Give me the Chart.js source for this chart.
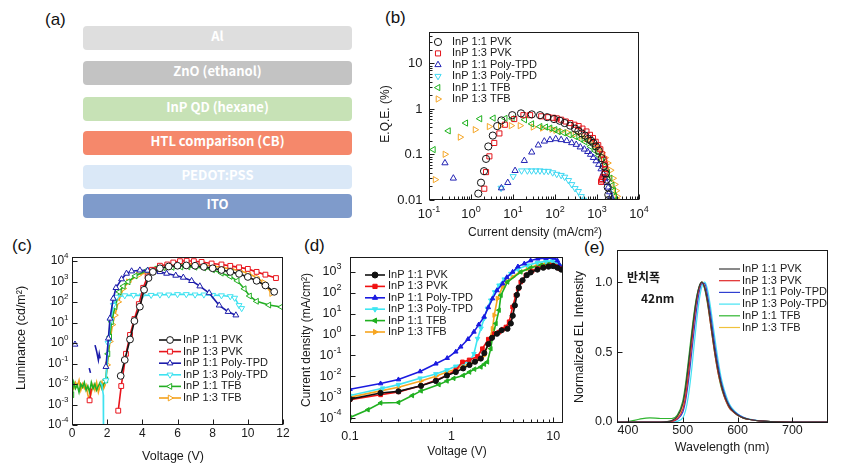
<!DOCTYPE html>
<html>
<head>
<meta charset="utf-8">
<script src="https://cdn.jsdelivr.net/npm/chart.js@4.4.0/dist/chart.umd.min.js"></script>
<style>
body { margin: 0; background: #fff; width: 846px; height: 465px; position: relative; overflow: hidden; font-family: "Liberation Sans", Arial, sans-serif; }
canvas { position: absolute; }
.tag { position: absolute; font-size: 17px; color: #111; }
.lay { position: absolute; left: 83px; width: 269px; height: 24px; border-radius: 4px; color: #fff; text-align: center; line-height: 24px;
       font: bold 13px "Noto Sans CJK KR", "Noto Sans", sans-serif; }
</style>
</head>
<body>
<div class="tag" style="left:45px;top:10px">(a)</div>
<div class="tag" style="left:385px;top:8px">(b)</div>
<div class="tag" style="left:12px;top:236px">(c)</div>
<div class="tag" style="left:304px;top:236px">(d)</div>
<div class="tag" style="left:584px;top:238px">(e)</div>

<!-- (a) device stack -->
<div class="lay" style="top:26px;background:#dedede">Al</div>
<div class="lay" style="top:61px;background:#c3c3c3">ZnO (ethanol)</div>
<div class="lay" style="top:97px;background:#c7e2b6">InP QD (hexane)</div>
<div class="lay" style="top:131px;background:#f5886b">HTL comparison (CB)</div>
<div class="lay" style="top:165px;background:#dae8f7">PEDOT:PSS</div>
<div class="lay" style="top:194px;background:#7f9bcb">ITO</div>

<canvas id="eqe"></canvas>
<canvas id="lum"></canvas>
<canvas id="jv"></canvas>
<canvas id="el"></canvas>

<script>
// ---- series names ----
const names = ['InP 1:1 PVK', 'InP 1:3 PVK', 'InP 1:1 Poly-TPD', 'InP 1:3 Poly-TPD', 'InP 1:1 TFB', 'InP 1:3 TFB'];

// ---- (b) EQE (%) vs current density (mA/cm2) ----
const bJ1 = [1.49,1.73,2.04,2.28,2.58,3.3,4.2,5.3,9.6,15.5,28,44,65,95,130,170,230,300,360,433,520,620,720,815,950,1100,1290,1450,1600,1700,1800,1860,1880];
const bE1 = [0.0138,0.024,0.043,0.080,0.15,0.26,0.42,0.56,0.73,0.80,0.76,0.73,0.66,0.60,0.55,0.49,0.43,0.37,0.33,0.29,0.26,0.22,0.20,0.18,0.15,0.12,0.083,0.055,0.038,0.028,0.019,0.013,0.010];
const bJ2 = [2.07,2.28,2.74,3.58,4.74,6.4,10.7,17.7,25.5,47,69,90,110,140,180,230,290,365,450,560,680,800,930,1070,1200,1330,1480,1560,1580,1520,1420,1330,1290,1250];
const bE2 = [0.0177,0.041,0.091,0.179,0.29,0.45,0.60,0.73,0.73,0.69,0.66,0.64,0.62,0.58,0.53,0.49,0.45,0.42,0.37,0.32,0.27,0.23,0.19,0.16,0.13,0.10,0.077,0.06,0.048,0.038,0.032,0.029,0.027,0.025];
const bJ3 = [0.24,0.38,5.3,7.5,11.2,18.6,27.9,40,55.7,76,104,140,190,250,320,400,500,600,700,820,950,1100,1250,1400,1550,1700,1850,2000,2150,2300];
const bE3 = [0.065,0.030,0.0183,0.024,0.044,0.073,0.112,0.16,0.195,0.21,0.22,0.21,0.20,0.18,0.165,0.145,0.13,0.115,0.10,0.085,0.072,0.06,0.048,0.038,0.03,0.024,0.019,0.015,0.012,0.0105];
const bJ4 = [5.2,10.1,16,22,27.7,35,43.8,55,69,88,110,140,170,210,250,300,360,420,475];
const bE4 = [0.0183,0.033,0.044,0.044,0.044,0.044,0.044,0.043,0.043,0.040,0.037,0.035,0.032,0.027,0.022,0.018,0.0155,0.012,0.010];
const bJ5 = [0.127,0.29,0.75,1.63,3.4,6.5,9.6,19,28,44,60,76,100,120,160,220,300,400,520,700,900,1100,1300,1550,1800,2050,2300,2500,2650,2790];
const bE5 = [0.128,0.33,0.49,0.61,0.63,0.62,0.61,0.58,0.47,0.41,0.40,0.38,0.35,0.32,0.30,0.27,0.25,0.22,0.19,0.15,0.12,0.095,0.075,0.055,0.04,0.03,0.021,0.016,0.012,0.010];
const bJ6 = [0.14,0.24,0.55,1.25,2.7,5,9,14.7,30,50,84,104,140,200,300,420,550,700,900,1100,1300,1550,1800,2100,2400,2650,2850,3000,3160];
const bE6 = [0.028,0.101,0.24,0.35,0.41,0.43,0.43,0.43,0.40,0.38,0.36,0.34,0.32,0.30,0.28,0.25,0.22,0.20,0.16,0.135,0.11,0.085,0.065,0.045,0.03,0.022,0.016,0.012,0.010];

// ---- (c) luminance (cd/m2) vs voltage (V), null = gap ----
const cV1 = [2.77,3.0,3.3,3.55,3.86,4.1,4.35,4.6,5.0,5.5,6.0,6.5,7.0,7.5,8.0,8.5,9.0,9.5,10.0,10.5,11.0,11.5];
const cL1 = [0.025,0.15,1.5,12,60,400,1500,3000,4500,5500,6000,6200,6000,5300,4500,3700,3000,2400,1700,1100,650,320];
const cV2 = [1.0,1.1,1.2,2.63,2.8,3.07,3.3,3.55,3.8,4.05,4.3,4.55,5.0,5.42,5.76,6.14,6.52,6.93,7.37,7.94,8.5,9.0,9.5,10.0,10.5,11.0,11.6];
const cL2 = [0.0016,0.006,null,5e-4,0.008,0.3,2.5,15,80,500,1800,3800,6000,6900,8600,10000,10500,10000,9200,7700,6900,5900,5000,4200,3000,2200,1500];
const cV3 = [0.17,0.5,0.98,1.05,1.15,1.31,1.4,1.5,1.55,1.6,1.7,1.93,2.07,2.16,2.35,2.5,2.82,3.1,3.39,3.86,4.3,4.6,5.0,5.38,5.9,6.33,6.8,7.27,7.8,8.37,8.88,9.32];
const cL3 = [0.86,null,0.06,0.035,null,0.8,0.4,0.15,0.3,0.18,null,0.07,1.7,16,150,500,1330,2500,3250,3600,3500,3400,3000,2500,2000,1600,1100,600,280,70,34,23];
const cV4 = [1.6,1.7,1.78,1.79,1.85,1.93,2.05,2.2,2.35,2.54,3.0,3.5,4.0,4.5,5.0,5.5,6.0,6.5,7.0,7.5,8.0,8.5,9.0,9.25,9.5,9.65];
const cL4 = [0.012,0.009,0.003,5e-5,null,0.015,1,13,71,180,210,220,210,220,230,230,240,240,230,230,220,210,190,160,70,50];
const cV5 = [0,0.1,0.2,0.3,0.4,0.5,0.6,0.7,0.8,0.9,1.0,1.1,1.2,1.3,1.4,1.5,1.6,1.7,1.8,1.93,2.05,2.15,2.25,2.45,2.69,2.92,3.2,3.6,4.24,4.7,5.2,5.7,6.2,6.6,7.0,7.5,8.0,8.5,9.0,9.4,9.8,10.1,10.5,11.2,11.9];
const cL5 = [0.003,0.012,0.006,0.009,0.004,0.01,0.007,0.012,0.005,0.008,0.004,0.012,0.006,0.01,0.005,0.008,0.012,0.006,0.01,0.016,0.3,2,11,60,316,600,980,1900,3500,4200,4800,5000,5200,5300,5100,4700,3800,2600,1800,1100,450,200,110,72,58];
const cV6 = [0,0.1,0.2,0.3,0.4,0.5,0.6,0.7,0.8,0.9,1.0,1.1,1.2,1.3,1.4,1.5,1.6,1.7,1.8,1.88,2.0,2.16,2.3,2.44,2.63,2.92,3.2,3.77,4.43,5.0,5.38,6.14,6.6,7.0,7.5,8.0,8.5,9.0,9.5,10.0,10.5,10.9,11.35];
const cL6 = [0.01,0.006,0.012,0.008,0.015,0.005,0.01,0.006,0.009,0.003,0.0016,0.004,0.009,0.005,0.012,0.004,0.008,0.013,0.006,0.009,0.086,1.2,8,23,103,465,980,2080,3250,4500,5300,7000,7200,7000,6500,5800,5000,4200,3500,2600,1600,900,265];
const cMarkFrom = [2.7, 2.6, 1.9, 1.9, 1.9, 1.95];

// ---- (d) current density (mA/cm2) vs voltage (V) ----
const dV1 = [0.1,0.2,0.3,0.5,0.7,0.9,1.1,1.3,1.5,1.7,1.94,2.1,2.3,2.5,2.8,3.1,3.55,3.83,4.0,4.2,4.4,4.6,5.0,5.5,6.0,7.0,8.0,9.0,10.0,11.0,12.0];
const dJ1 = [8.1e-4,1.6e-3,1.9e-3,3.5e-3,6e-3,0.011,0.016,0.024,0.035,0.05,0.071,0.13,0.35,0.7,1.1,1.6,1.9,3.4,8,25,80,180,400,700,950,1300,1600,1800,1900,1600,1300];
const dV2 = [0.1,0.2,0.3,0.5,0.7,0.9,1.1,1.28,1.49,1.8,2.01,2.3,2.63,2.93,3.2,3.43,3.69,3.99,4.3,4.53,4.8,5.4,6.2,7.05,8.0,9.0,9.8,10.5,11.6];
const dJ2 = [7.6e-4,1.3e-3,1.8e-3,3.5e-3,6.5e-3,0.011,0.02,0.049,0.061,0.089,0.21,0.6,1.1,1.3,1.8,2.3,4.1,21,76,158,330,700,1100,1440,1700,1900,2100,1900,1440];
const dV3 = [0.1,0.2,0.3,0.49,0.7,0.905,1.1,1.23,1.45,1.66,1.85,2.09,2.3,2.53,2.8,3.18,3.5,3.99,4.5,5.2,6.0,7.05,8.5,10.2,11.0,11.6];
const dJ3 = [2.4e-3,4.5e-3,7e-3,0.017,0.04,0.074,0.15,0.26,0.6,1.35,3,7,20,53,130,276,550,1000,1800,2500,3500,4300,4600,4700,3500,2100];
const dV4 = [0.1,0.21,0.3,0.49,0.7,0.9,1.1,1.32,1.5,1.66,1.8,1.95,2.09,2.25,2.43,2.65,2.93,3.3,3.83,4.5,5.6,7.0,8.5,9.8,11.0,11.6];
const dJ4 = [1.2e-3,2.7e-3,4e-3,8.1e-3,0.013,0.02,0.03,0.043,0.05,0.12,0.64,2.0,5.9,18,44,110,230,450,830,1400,2100,2800,3200,3300,2500,1900];
const dV5 = [0.1,0.15,0.2,0.3,0.41,0.5,0.75,0.9,1.05,1.3,1.5,1.68,1.94,2.1,2.25,2.43,2.53,2.73,2.93,3.06,3.55,4.8,6.0,7.6,9.0,10.2,11.0,12.0];
const dJ5 = [1.07e-4,2.5e-4,5.3e-4,5.6e-4,1.2e-3,2e-3,4e-3,6e-3,8e-3,0.011,0.016,0.022,0.028,0.038,0.049,0.21,0.78,3.4,14.7,76,330,1000,1600,2100,2400,2500,2100,1500];
const dV6 = [0.1,0.2,0.3,0.5,0.7,0.9,1.1,1.3,1.5,1.7,1.9,2.09,2.34,2.53,2.63,2.83,3.18,3.5,3.99,4.7,5.6,7.0,8.5,9.9,11.0,11.6];
const dJ6 = [1e-3,2e-3,3e-3,6e-3,0.01,0.016,0.022,0.03,0.04,0.05,0.07,0.1,0.45,1.9,8.5,53,190,350,575,1000,1440,2200,2700,3000,2600,2100];

// ---- (e) normalized EL spectra ----
const eWl = [380,400,420,440,460,480,490,500,505,510,515,520,525,530,535,540,545,550,555,560,565,570,575,580,585,590,600,610,620,640,660,700,740,765];
const eI1 = [0,0,0,0,0,0.01,0.04,0.13,0.24,0.4,0.57,0.74,0.88,0.97,1.0,0.96,0.87,0.74,0.6,0.47,0.36,0.27,0.2,0.15,0.11,0.085,0.05,0.03,0.02,0.008,0.003,0,0,0];
const eI2 = [0,0,0,0,0,0.005,0.025,0.09,0.18,0.33,0.51,0.7,0.86,0.96,1.0,0.96,0.86,0.72,0.58,0.45,0.34,0.26,0.19,0.14,0.1,0.08,0.048,0.03,0.02,0.008,0.003,0,0,0];
const eI3 = [0,0,0,0,0,0.005,0.02,0.07,0.15,0.28,0.45,0.63,0.8,0.93,0.99,0.99,0.91,0.79,0.65,0.51,0.39,0.29,0.22,0.16,0.12,0.09,0.055,0.033,0.02,0.008,0.003,0,0,0];
const eI4 = [0,0,0,0,0,0,0.005,0.03,0.08,0.18,0.33,0.52,0.71,0.87,0.97,1.0,0.95,0.84,0.7,0.56,0.43,0.32,0.24,0.18,0.13,0.1,0.06,0.035,0.022,0.009,0.003,0.001,0,0];
const eI5 = [0,0.003,0.02,0.03,0.025,0.025,0.05,0.15,0.27,0.43,0.6,0.76,0.89,0.97,1.0,0.95,0.85,0.72,0.58,0.45,0.34,0.25,0.19,0.14,0.1,0.08,0.048,0.03,0.02,0.008,0.003,0,0,0];
const eI6 = [0,0,0,0,0,0.008,0.035,0.12,0.22,0.38,0.56,0.73,0.87,0.96,1.0,0.97,0.88,0.75,0.61,0.48,0.37,0.28,0.2,0.15,0.11,0.085,0.05,0.03,0.02,0.008,0.003,0,0,0];

// ---- styles ----
const shapes = [['circle', 0], ['rect', 0], ['triangle', 0], ['triangle', 180], ['triangle', -90], ['triangle', 90]];
const bColors = ['#141414', '#e3141b', '#2424b4', '#3fd8f2', '#1fb21f', '#f4a628'];
const cColors = ['#141414', '#e8141c', '#1c1caa', '#3ee2f0', '#22ae22', '#f4a21c'];
const dColors = ['#111111', '#f01010', '#1a1ae0', '#3ee6f2', '#20b020', '#f7a520'];
const eColors = ['#3a3a3a', '#e02828', '#2f3fd0', '#44e2f2', '#2fb52f', '#f0c23c'];

const FONT = '"Liberation Sans", Arial, sans-serif';
const pts = (xs, ys) => xs.map((x, i) => ({ x, y: ys[i] }));
const decades = (lo, hi) => { const r = []; for (let e = lo; e <= hi; e++) r.push(Math.pow(10, e)); return r; };
const minors = (lo, hi, max) => { const r = []; for (let e = lo; e <= hi; e++) for (let k = 2; k <= 9; k++) { const v = k * Math.pow(10, e); if (v < max) r.push(v); } return r; };

// "10" with a raised exponent
function pow10(ctx, x, y, exp, align, size) {
  const es = Math.round(size * 0.68);
  ctx.font = size + 'px ' + FONT;
  const wb = ctx.measureText('10').width;
  ctx.font = es + 'px ' + FONT;
  const we = ctx.measureText(exp).width;
  let x0 = x;
  if (align === 'right') x0 = x - wb - we;
  if (align === 'center') x0 = x - (wb + we) / 2;
  ctx.textAlign = 'left';
  ctx.textBaseline = 'middle';
  ctx.font = size + 'px ' + FONT;
  ctx.fillText('10', x0, y);
  ctx.font = es + 'px ' + FONT;
  ctx.fillText(exp, x0 + wb, y - size * 0.42);
}

// box, inward ticks, labels, titles and legend
const frame = {
  id: 'frame',
  afterDatasetsDraw(chart, args, o) {
    const ctx = chart.ctx, a = chart.chartArea;
    const sx = chart.scales.x, sy = chart.scales.y;
    const L = Math.round(a.left) + 0.5, T = Math.round(a.top) + 0.5;
    const R = Math.round(a.right) - 0.5, B = Math.round(a.bottom) - 0.5;
    ctx.save();
    ctx.strokeStyle = '#1a1a1a';
    ctx.lineWidth = 1;
    ctx.strokeRect(L, T, R - L, B - T);
    ctx.beginPath();
    const tx = (vals, len) => vals.forEach(v => { const p = Math.round(sx.getPixelForValue(v)) + 0.5; ctx.moveTo(p, B); ctx.lineTo(p, B - len); });
    const ty = (vals, len) => vals.forEach(v => { const p = Math.round(sy.getPixelForValue(v)) + 0.5; ctx.moveTo(L, p); ctx.lineTo(L + len, p); });
    tx(o.xMajor || [], 5); tx(o.xMinor || [], 3);
    ty(o.yMajor || [], 5); ty(o.yMinor || [], 3);
    ctx.stroke();

    ctx.fillStyle = '#1a1a1a';
    (o.xMajor || []).forEach(v => {
      const p = sx.getPixelForValue(v);
      if (o.xPow) pow10(ctx, p, B + o.xDy, String(Math.round(Math.log10(v))), 'center', o.size);
      else { ctx.font = o.size + 'px ' + FONT; ctx.textAlign = 'center'; ctx.textBaseline = 'middle'; ctx.fillText(o.xFmt(v), p, B + o.xDy); }
    });
    (o.yMajor || []).forEach(v => {
      const p = sy.getPixelForValue(v);
      if (o.yPow) pow10(ctx, L - o.yDx, p, String(Math.round(Math.log10(v))), 'right', o.size);
      else { ctx.font = o.size + 'px ' + FONT; ctx.textAlign = 'right'; ctx.textBaseline = 'middle'; ctx.fillText(o.yFmt(v), L - o.yDx, p); }
    });

    ctx.font = o.titleFont;
    ctx.textAlign = 'center';
    ctx.textBaseline = 'middle';
    ctx.fillText(o.xTitle[0], o.xTitle[1] - o.ox, o.xTitle[2] - o.oy);
    ctx.save();
    ctx.translate(o.yTitle[1] - o.ox, o.yTitle[2] - o.oy);
    ctx.rotate(-Math.PI / 2);
    ctx.fillText(o.yTitle[0], 0, 0);
    ctx.restore();

    const g = o.legend;
    chart.data.datasets.forEach((d, i) => {
      const y = g.y + i * g.dy - o.oy;
      if (g.line) {
        ctx.strokeStyle = d.borderColor;
        ctx.lineWidth = g.lw;
        ctx.beginPath(); ctx.moveTo(g.line[0] - o.ox, y); ctx.lineTo(g.line[1] - o.ox, y); ctx.stroke();
      }
      if (g.mark) {
        ctx.strokeStyle = d.borderColor;
        ctx.fillStyle = g.fill || d.borderColor;
        ctx.lineWidth = 1;
        Chart.helpers.drawPoint(ctx, { pointStyle: d.pointStyle, rotation: d.pointRotation || 0, radius: g.r, borderWidth: 1 }, g.mark - o.ox, y);
      }
      ctx.fillStyle = '#1a1a1a';
      ctx.font = g.font;
      ctx.textAlign = 'left';
      ctx.textBaseline = 'middle';
      ctx.fillText(d.label, g.text - o.ox, y);
    });
    (o.notes || []).forEach(n => {
      ctx.font = n[3];
      ctx.textAlign = 'left';
      ctx.textBaseline = 'middle';
      ctx.fillText(n[0], n[1] - o.ox, n[2] - o.oy);
    });
    ctx.restore();
  }
};

// canvas box + plot area in page pixels: [left, top, width, height], [areaLeft, areaTop, areaRight, areaBottom]
function build(id, box, area, datasets, xs, ys, fo) {
  const c = document.getElementById(id);
  c.width = box[2]; c.height = box[3];
  c.style.left = box[0] + 'px'; c.style.top = box[1] + 'px';
  const hide = { ticks: { display: false }, grid: { display: false }, border: { display: false } };
  Object.assign(xs, hide, { afterFit: s => { s.height = box[1] + box[3] - area[3]; } });
  Object.assign(ys, hide, { afterFit: s => { s.width = area[0] - box[0]; } });
  fo.ox = box[0]; fo.oy = box[1];
  return new Chart(c, {
    type: 'scatter',
    data: { datasets },
    options: {
      responsive: false, animation: false, devicePixelRatio: 1,
      layout: { autoPadding: false, padding: { left: 0, bottom: 0, top: area[1] - box[1], right: box[0] + box[2] - area[2] } },
      scales: { x: xs, y: ys },
      plugins: { legend: { display: false }, tooltip: { enabled: false }, frame: fo }
    },
    plugins: [frame]
  });
}

// ---- (b) ----
const bSets = [[bJ1, bE1], [bJ2, bE2], [bJ3, bE3], [bJ4, bE4], [bJ5, bE5], [bJ6, bE6]].map((s, i) => ({
  label: names[i], data: pts(s[0], s[1]), showLine: false,
  pointStyle: shapes[i][0], pointRotation: shapes[i][1], pointRadius: 3.6,
  pointBorderWidth: 1, pointBorderColor: bColors[i], pointBackgroundColor: 'rgba(0,0,0,0)', borderColor: bColors[i]
}));
build('eqe', [360, 20, 300, 225], [429, 32, 639, 200], bSets,
  { type: 'logarithmic', min: 0.1, max: 10000 },
  { type: 'logarithmic', min: 0.01, max: 49 },
  { xMajor: decades(-1, 4), xMinor: minors(-1, 3, 1e4), yMajor: decades(-2, 1), yMinor: minors(-2, 1, 49),
    xPow: true, yPow: false, yFmt: v => String(v), size: 13, xDy: 15, yDx: 7,
    titleFont: '12px ' + FONT, xTitle: ['Current density (mA/cm²)', 535, 233], yTitle: ['E.Q.E. (%)', 386, 114],
    legend: { x: 0, y: 42, dy: 11.4, line: null, mark: 438, r: 3.6, fill: 'rgba(0,0,0,0)', text: 452, font: '11px ' + FONT } });

// ---- (c) ----
const cSets = [[cV1, cL1], [cV2, cL2], [cV3, cL3], [cV4, cL4], [cV5, cL5], [cV6, cL6]].map((s, i) => ({
  label: names[i], data: pts(s[0], s[1]), showLine: true, spanGaps: false,
  borderColor: cColors[i], borderWidth: 1.6,
  pointStyle: shapes[i][0], pointRotation: shapes[i][1],
  pointRadius: ctx => (ctx.raw && (ctx.raw.x >= cMarkFrom[i] || (ctx.index === 0 && i !== 3))) ? 3.4 : 0,
  pointBorderWidth: 1, pointBorderColor: cColors[i], pointBackgroundColor: '#fff'
}));
build('lum', [0, 235, 300, 230], [72, 257, 283, 425], cSets,
  { type: 'linear', min: 0, max: 12 },
  { type: 'logarithmic', min: 1e-4, max: 1.6e4 },
  { xMajor: [0, 2, 4, 6, 8, 10, 12], yMajor: decades(-4, 4),
    xPow: false, xFmt: v => String(v), yPow: true, size: 12, xDy: 9, yDx: 4,
    titleFont: '12.5px ' + FONT, xTitle: ['Voltage (V)', 173, 457], yTitle: ['Luminance (cd/m²)', 22, 338],
    legend: { y: 340, dy: 11.6, line: [159, 181], lw: 1.6, mark: 170, r: 3.4, fill: '#fff', text: 183, font: '11px ' + FONT } });

// ---- (d) ----
const dSets = [[dV1, dJ1], [dV2, dJ2], [dV3, dJ3], [dV4, dJ4], [dV5, dJ5], [dV6, dJ6]].map((s, i) => ({
  label: names[i], data: pts(s[0], s[1]), showLine: true,
  borderColor: dColors[i], borderWidth: 1.6,
  pointStyle: shapes[i][0], pointRotation: shapes[i][1], pointRadius: 2.6,
  pointBorderWidth: 1, pointBorderColor: dColors[i], pointBackgroundColor: dColors[i]
}));
build('jv', [290, 235, 285, 230], [350, 257, 563, 423], dSets,
  { type: 'logarithmic', min: 0.1, max: 12.5 },
  { type: 'logarithmic', min: 5.8e-5, max: 5200 },
  { xMajor: [0.1, 1, 10], xMinor: minors(-1, 1, 12.5), yMajor: decades(-4, 3),
    xPow: false, xFmt: v => String(v), yPow: true, size: 12.5, xDy: 14, yDx: 9,
    titleFont: '12px ' + FONT, xTitle: ['Voltage (V)', 457, 452], yTitle: ['Current density (mA/cm²)', 307, 340],
    legend: { y: 275, dy: 11.4, line: [365, 385], lw: 1.6, mark: 375, r: 3, text: 388, font: '11px ' + FONT } });

// ---- (e) ----
const eSets = [eI1, eI2, eI3, eI4, eI5, eI6].map((s, i) => ({
  label: names[i], data: pts(eWl, s), showLine: true, borderColor: eColors[i], borderWidth: 1.2,
  pointRadius: 0, cubicInterpolationMode: 'monotone'
}));
build('el', [570, 235, 276, 230], [617, 250, 828, 423], eSets,
  { type: 'linear', min: 380, max: 765 },
  { type: 'linear', min: -0.007, max: 1.23 },
  { xMajor: [400, 500, 600, 700], yMajor: [0, 0.5, 1.0],
    xPow: false, xFmt: v => String(v), yPow: false, yFmt: v => v.toFixed(1), size: 12.5, xDy: 8, yDx: 5,
    titleFont: '12.5px ' + FONT, xTitle: ['Wavelength (nm)', 722, 448], yTitle: ['Normalized EL Intensity', 580, 337],
    legend: { y: 269, dy: 11.7, line: [719, 740], lw: 1.2, mark: null, text: 742, font: '11px ' + FONT },
    notes: [['반치폭', 627, 277, 'bold 12px "Noto Sans CJK KR"'], ['42nm', 641, 298, 'bold 12px "Noto Sans CJK KR"']] });
</script>
</body>
</html>
